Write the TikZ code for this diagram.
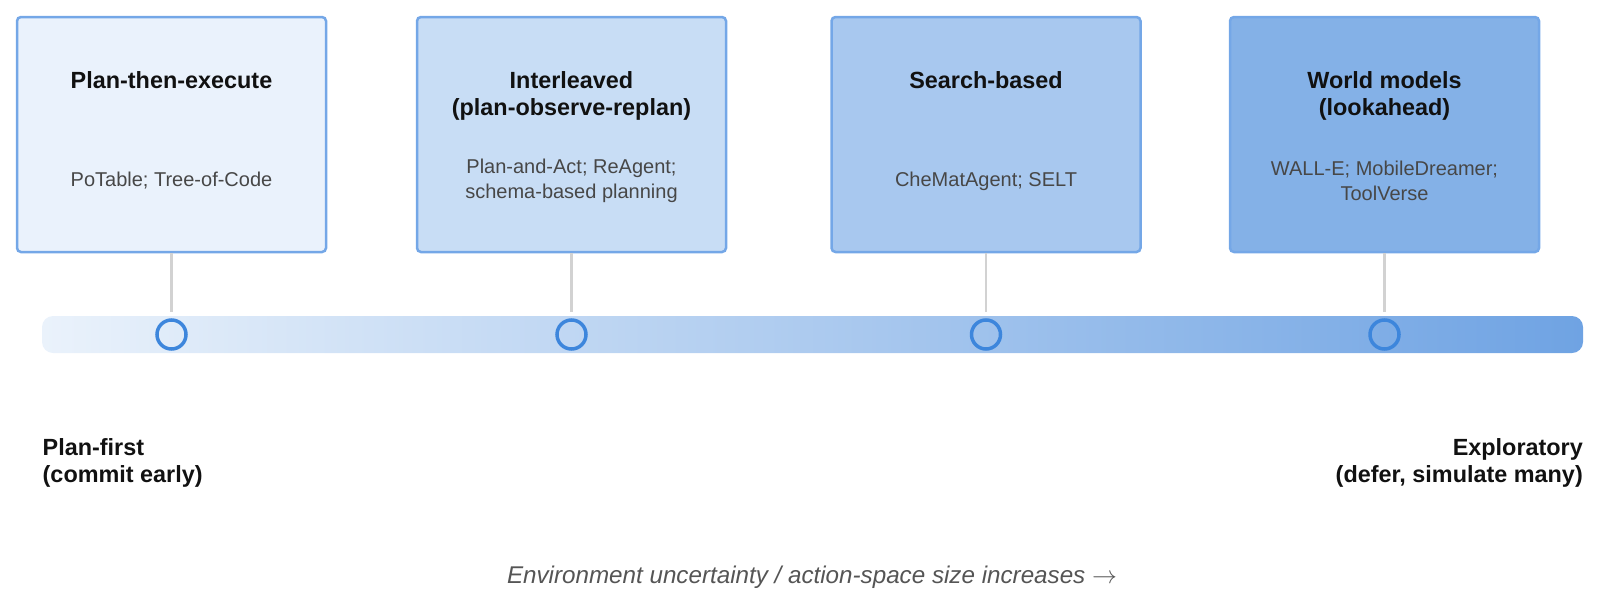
\documentclass[tikz,border=0pt]{standalone}
\usepackage{fontspec}
\setmainfont{Liberation Sans}
\definecolor{boxline}{HTML}{74A7E7}
\definecolor{fillA}{HTML}{EAF2FC}
\definecolor{fillB}{HTML}{C8DDF5}
\definecolor{fillC}{HTML}{A8C8EF}
\definecolor{fillD}{HTML}{84B1E7}
\definecolor{titlecol}{HTML}{111111}
\definecolor{subcol}{HTML}{474747}
\definecolor{stemcol}{HTML}{D2D2D2}
\definecolor{dotcol}{HTML}{3D86DC}
\definecolor{barl}{HTML}{EAF2FB}
\definecolor{barr}{HTML}{6FA3E3}
\definecolor{axiscol}{HTML}{555555}
\begin{document}
\begin{tikzpicture}[x=1pt,y=-1pt,
  box/.style={draw=boxline, line width=2.5pt, rounded corners=4pt, minimum width=309pt, minimum height=235pt, inner sep=0pt},
  ttl/.style={anchor=north, align=center, inner sep=0pt, font=\fontsize{23.4}{27}\selectfont\bfseries, text=titlecol},
  subtxt/.style={anchor=center, align=center, inner sep=0pt, font=\fontsize{20}{24.5}\selectfont, text=subcol},
  stem/.style={draw=stemcol, line width=2.5pt},
  dot/.style={circle, draw=dotcol, line width=3.5pt, minimum size=29pt, inner sep=0pt},
  endlbl/.style={inner sep=0pt, font=\fontsize{23.4}{27}\selectfont\bfseries, text=titlecol}
]
\useasboundingbox (0,0) rectangle (1600,605);
% bar
\shade[left color=barl, right color=barr, rounded corners=11pt] (42,316) rectangle (1583,353);
% boxes
\node[box, fill=fillA] (b1) at (171.5,134.5) {};
\node[box, fill=fillB] (b2) at (571.5,134.5) {};
\node[box, fill=fillC] (b3) at (986,134.5) {};
\node[box, fill=fillD] (b4) at (1384.5,134.5) {};
% titles
\node[ttl] (t1) at (171.5,71.5) {Plan-then-execute};
\node[ttl] (t2) at (571.5,71.5) {Interleaved\\(plan-observe-replan)};
\node[ttl] (t3) at (986,71.5) {Search-based};
\node[ttl] (t4) at (1384.5,71.5) {World models\\(lookahead)};
% examples
\node[subtxt] (e1) at (171.5,181) {PoTable; Tree-of-Code};
\node[subtxt] (e2) at (571.5,181) {Plan-and-Act; ReAgent;\\schema-based planning};
\node[subtxt] (e3) at (986,181) {CheMatAgent; SELT};
\node[subtxt] (e4) at (1384.5,181) {WALL-E; MobileDreamer;\\ToolVerse};
% stems
\coordinate (k1) at (171.5,312);
\coordinate (k2) at (571.5,312);
\coordinate (k3) at (986,312);
\coordinate (k4) at (1384.5,312);
\draw[stem] (b1.south) -- (k1);
\draw[stem] (b2.south) -- (k2);
\draw[stem] (b3.south) -- (k3);
\draw[stem] (b4.south) -- (k4);
% dots
\node[dot] (d1) at (171.5,334.5) {};
\node[dot] (d2) at (571.5,334.5) {};
\node[dot] (d3) at (986,334.5) {};
\node[dot] (d4) at (1384.5,334.5) {};
% end labels
\node[endlbl, anchor=north west, align=left] (lft) at (42.5,438.5) {Plan-first\\(commit early)};
\node[endlbl, anchor=north east, align=right] (rgt) at (1583,438.5) {Exploratory\\(defer, simulate many)};
% axis caption
\node[inner sep=0pt, anchor=base, font=\fontsize{24.2}{28}\selectfont, text=axiscol] (axis) at (812,583) {\itshape Environment uncertainty / action-space size increases \upshape$\rightarrow$};
\end{tikzpicture}
\end{document}
